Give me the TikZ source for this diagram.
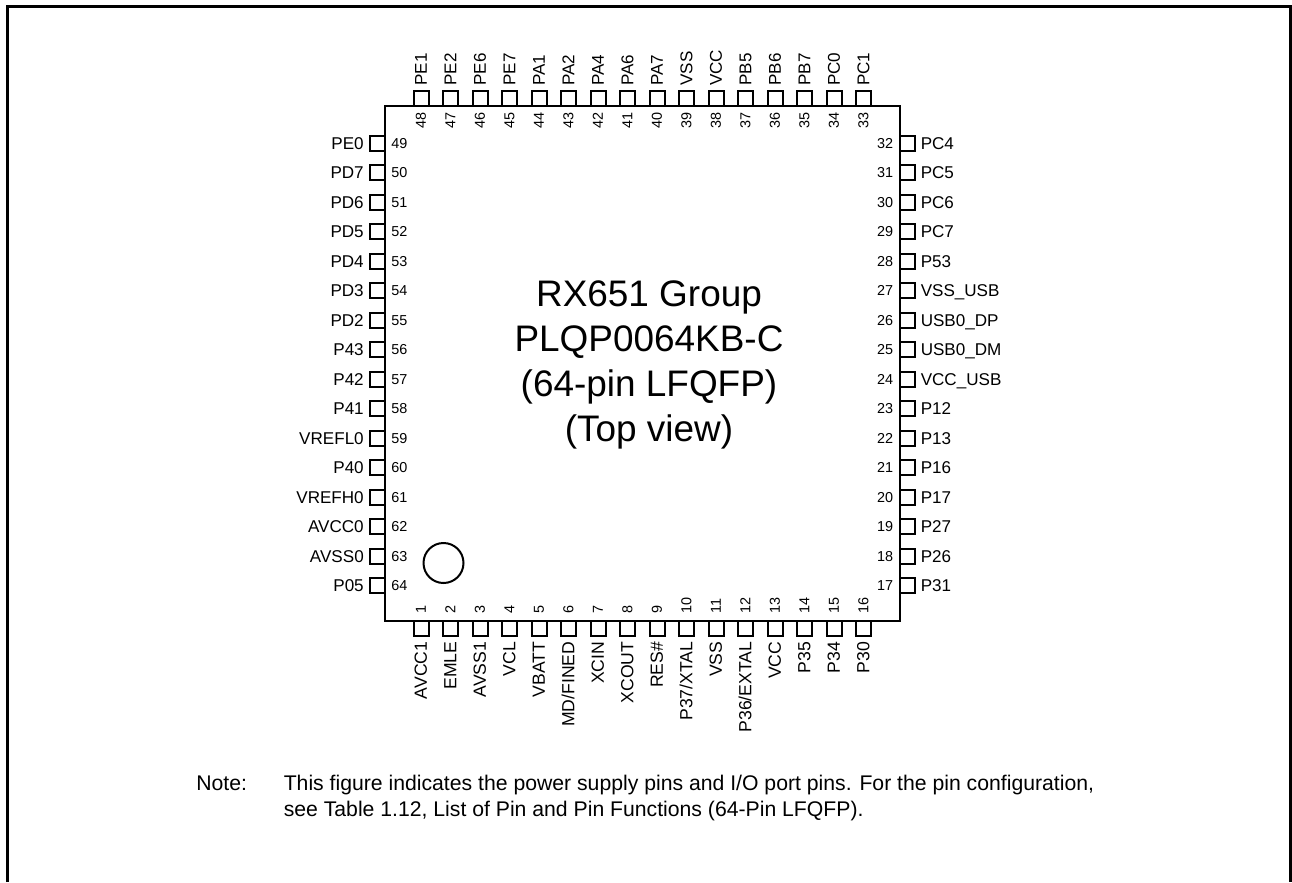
\documentclass[tikz,border=0pt]{standalone}
\usepackage{fontspec}
\setmainfont{Liberation Sans}
\tikzset{
  x=0.75pt,y=-0.75pt,
  frameline/.style={black,line width=2.25pt},
  pkg/.style={draw,black,line width=1.5pt,minimum width=386.25pt,minimum height=386.25pt,inner sep=0pt,outer sep=0pt},
  pinbox/.style={draw,black,line width=1.5pt,minimum width=11.25pt,minimum height=11.25pt,inner sep=0pt,outer sep=0pt},
  pinlabel/.style={inner sep=0pt,text height=9.2pt,text depth=0pt,font=\fontsize{12.8pt}{14pt}\selectfont,text=black},
  pinlabelb/.style={pinlabel,font=\fontsize{13.2pt}{14pt}\selectfont},
  pinnum/.style={inner sep=0pt,text height=7.7pt,text depth=0pt,font=\fontsize{10.8pt}{12pt}\selectfont,text=black},
  title/.style={align=center,inner sep=0pt,font=\fontsize{27.7pt}{33.75pt}\selectfont,text=black},
  note/.style={anchor=base west,inner sep=0pt,font=\fontsize{15.9pt}{19pt}\selectfont,text=black},
}
\begin{document}
\begin{tikzpicture}
\useasboundingbox (0,0) rectangle (1292,882);
\draw[frameline] (7.5,882) -- (7.5,6.3) -- (1290.5,6.3) -- (1290.5,882);
\foreach \n/\lab [count=\i from 0] in {48/PE1,47/PE2,46/PE6,45/PE7,44/PA1,43/PA2,42/PA4,41/PA6,40/PA7,39/VSS,38/VCC,37/PB5,36/PB6,35/PB7,34/PC0,33/PC1}{
  \pgfmathsetmacro\px{421.2+29.5*\i}
  \node[pinbox] (pin\n) at (\px,98.5) {};
  \node[pinlabel,rotate=90,anchor=west] (lab\n) at (\px-0.5,86) {\lab};
  \node[pinnum,rotate=90,anchor=west] (num\n) at (\px-0.5,129) {\n};
}
\foreach \n/\lab [count=\i from 0] in {1/AVCC1,2/EMLE,3/AVSS1,4/VCL,5/VBATT,6/{MD/FINED},7/XCIN,8/XCOUT,9/RES\#,10/{P37/XTAL},11/VSS,12/{P36/EXTAL},13/VCC,14/P35,15/P34,16/P30}{
  \pgfmathsetmacro\px{421.2+29.5*\i}
  \node[pinbox] (pin\n) at (\px,628.5) {};
  \node[pinlabelb,rotate=90,anchor=east] (lab\n) at (\px-0.5,641.5) {\lab};
  \node[pinnum,rotate=90,anchor=west] (num\n) at (\px-0.5,614) {\n};
}
\foreach \n/\lab [count=\i from 0] in {49/PE0,50/PD7,51/PD6,52/PD5,53/PD4,54/PD3,55/PD2,56/P43,57/P42,58/P41,59/VREFL0,60/P40,61/VREFH0,62/AVCC0,63/AVSS0,64/P05}{
  \pgfmathsetmacro\py{143+29.5*\i}
  \node[pinbox] (pin\n) at (377.5,\py) {};
  \node[pinlabel,anchor=east] (lab\n) at (364,\py) {\lab};
  \node[pinnum,anchor=west] (num\n) at (391,\py) {\n};
}
\foreach \n/\lab [count=\i from 0] in {32/PC4,31/PC5,30/PC6,29/PC7,28/P53,27/VSS\_USB,26/USB0\_DP,25/USB0\_DM,24/VCC\_USB,23/P12,22/P13,21/P16,20/P17,19/P27,18/P26,17/P31}{
  \pgfmathsetmacro\py{143+29.5*\i}
  \node[pinbox] (pin\n) at (907.5,\py) {};
  \node[pinlabel,anchor=west] (lab\n) at (920.5,\py) {\lab};
  \node[pinnum,anchor=east] (num\n) at (893.5,\py) {\n};
}
\node[pkg] (chip) at (642.5,363.5) {};
\node[draw,black,line width=1.5pt,circle,minimum size=30pt,inner sep=0pt] (mark) at (443.5,563) {};
\node[title] (ttl) at (649,364.5) {RX651 Group\\PLQP0064KB-C\\(64-pin LFQFP)\\(Top view)};
\node[note] (notehead) at (196,790.7) {Note:};
\node[note] (noteline1) at (283.5,790.7) {This figure indicates the power supply pins and I/O port pins. For the pin configuration,};
\node[note] (noteline2) at (283.5,816) {see Table 1.12, List of Pin and Pin Functions (64-Pin LFQFP).};
\end{tikzpicture}
\end{document}
